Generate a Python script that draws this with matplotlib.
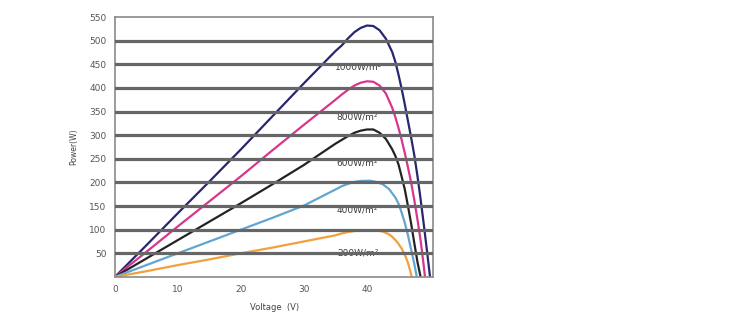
import matplotlib
matplotlib.use("Agg")
import matplotlib.pyplot as plt

# Voltage (V) / Power (W) points
v_1000 = [0, 5, 10, 15, 20, 25, 30, 35, 36, 37, 38, 39, 40, 41, 42, 43, 44, 44.5, 45, 45.5, 46, 46.5, 47, 47.5, 48, 48.5, 49, 49.5, 50.0]
p_1000 = [0, 67, 135, 202, 270, 340, 410, 478, 490, 505, 518, 527, 532, 531, 522, 504, 476, 455, 428, 398, 365, 330, 295, 258, 214, 165, 112, 57, 0]

v_800 = [0, 5, 10, 15, 20, 25, 30, 35, 36, 37, 38, 39, 40, 41, 42, 43, 44, 44.5, 45, 45.5, 46, 46.5, 47, 47.5, 48, 48.5, 49, 49.2]
p_800 = [0, 53, 107, 160, 213, 268, 322, 375, 386, 396, 405, 411, 414, 413, 405, 388, 358, 338, 315, 290, 262, 232, 200, 163, 122, 78, 24, 0]

v_600 = [0, 5, 10, 15, 20, 25, 30, 35, 36, 37, 38, 39, 40, 41, 42, 43, 44, 44.5, 45, 45.5, 46, 46.5, 47, 47.5, 48, 48.5]
p_600 = [0, 39, 78, 117, 156, 196, 237, 282, 290, 298, 305, 309.5, 312, 312, 305, 292, 270, 256, 238, 212, 185, 150, 113, 72, 32, 0]

v_400 = [0, 5, 10, 15, 20, 25, 30, 35, 36, 37, 38, 39, 40.5, 41.5, 42.5, 43.5, 44.5, 45, 45.5, 46, 46.5, 47, 47.5, 47.9]
p_400 = [0, 25, 50, 75, 100, 125, 151, 185, 192, 197, 201, 203, 203.5, 201, 196, 186, 168, 155, 136, 114, 88, 58, 28, 0]

v_200 = [0, 5, 10, 15, 20, 25, 30, 35, 36, 37, 38, 39, 40.5, 41.5, 42.5, 43.5, 44, 44.5, 45, 45.5, 46, 46.5, 47.1]
p_200 = [0, 12, 25, 37, 50, 62, 75, 88, 92, 95, 97, 98.5, 99, 98.5, 96, 90, 85, 78, 70, 60, 47, 30, 0]

labels = ["1000W/m²", "800W/m²", "600W/m²", "400W/m²", "200W/m²"]
label_v = [38.7, 38.5, 38.5, 38.5, 38.5]
label_p = [445, 338, 240, 141, 50]

x_ticks = [0, 10, 20, 30, 40]
y_ticks = [50, 100, 150, 200, 250, 300, 350, 400, 450, 500, 550]

series = [(v_1000, p_1000, "#27276f"), (v_800, p_800, "#d8368d"),
          (v_600, p_600, "#232323"), (v_400, p_400, "#62a5d1"),
          (v_200, p_200, "#f1a03c")]

fig = plt.figure(figsize=(7.56, 3.34), dpi=100)
ax = fig.add_axes([0.152, 0.171, 0.4214, 0.778])

for v, p, c in series:
    ax.plot(v, p, color=c, lw=1.6, zorder=2, solid_capstyle="round", solid_joinstyle="round")

for lab, lv, lp in zip(labels, label_v, label_p):
    ax.text(lv, lp, lab, ha="center", va="center", fontsize=6.5, color="#3a3a3a", zorder=2)

for y in y_ticks[:-1]:
    ax.axhline(y, color="#666666", lw=2.3, zorder=3)

ax.set_xlim(0, 50.55)
ax.set_ylim(0, 550)
ax.set_xticks(x_ticks)
ax.set_yticks(y_ticks)
ax.tick_params(length=0, labelsize=6.5, labelcolor="#555555", pad=6)
for s in ax.spines.values():
    s.set_color("#8a8a8a")
    s.set_linewidth(1.2)

ax.set_xlabel("Voltage  (V)", fontsize=6, color="#444444", labelpad=6)
ax.set_ylabel("Power(W)", fontsize=5.5, color="#444444", labelpad=8)

fig.savefig("out.png", dpi=100)
